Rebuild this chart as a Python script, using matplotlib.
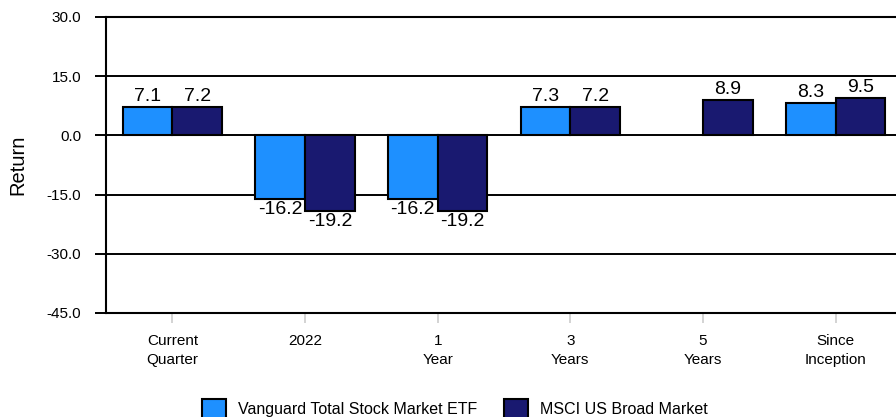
import numpy as np
import matplotlib
matplotlib.use("Agg")
import matplotlib.pyplot as plt

# === DATA ===
categories = ["Current\nQuarter", "2022", "1\nYear", "3\nYears", "5\nYears", "Since\nInception"]
vanguard = [7.1, -16.2, -16.2, 7.3, np.nan, 8.3]
msci = [7.2, -19.2, -19.2, 7.2, 8.9, 9.5]
series_names = ["Vanguard Total Stock Market ETF", "MSCI US Broad Market"]
yticks = [-45, -30, -15, 0, 15, 30]

# === STYLE ===
plt.rcParams['font.family'] = ['Liberation Sans', 'DejaVu Sans']
light = '#1E90FF'
dark = '#191970'
w = 0.375

fig = plt.figure(figsize=(8.96, 4.17), dpi=100)
ax = fig.add_axes([106/896, 104/417, 796/896, 296/417])

x = np.arange(len(categories))
b1 = ax.bar(x - w/2, vanguard, w, color=light, edgecolor='black', linewidth=1.5,
            label=series_names[0], zorder=3)
b2 = ax.bar(x + w/2, msci, w, color=dark, edgecolor='black', linewidth=1.5,
            label=series_names[1], zorder=3)

# value labels
for bars, vals in [(b1, vanguard), (b2, msci)]:
    for rect, v in zip(bars, vals):
        if np.isnan(v):
            continue
        cx = rect.get_x() + rect.get_width()/2
        if v >= 0:
            ax.annotate(f"{v:.1f}", (cx, v), xytext=(0, 1.5), textcoords='offset points',
                        ha='center', va='bottom', fontsize=14, zorder=4)
        else:
            ax.annotate(f"{v:.1f}", (cx, v), xytext=(0, -1.5), textcoords='offset points',
                        ha='center', va='top', fontsize=14, zorder=4)

ax.set_xlim(-0.5, len(categories) - 0.5)
ax.set_ylim(-45, 30)
ax.set_yticks(yticks)
ax.set_yticklabels([f"{t:.1f}" for t in yticks], fontsize=11)
ax.set_xticks(x)
ax.set_xticklabels(categories, fontsize=11, linespacing=1.45)
ax.tick_params(axis='y', length=8, width=1.4, color='black', pad=10)
ax.tick_params(axis='x', length=7, width=1.3, color='#d0d0d0', pad=8)
ax.yaxis.grid(True, color='black', linewidth=1.4, zorder=1)
ax.set_axisbelow(True)
for s in ax.spines.values():
    s.set_linewidth(1.5)
ax.spines['right'].set_visible(False)

ax.set_ylabel("Return", fontsize=14.5, labelpad=14)

fig.legend(handles=[b1, b2], loc='center', bbox_to_anchor=(455/896, 1 - 409/417), ncol=2,
           frameon=False, fontsize=11.5, handlelength=1.5, handleheight=1.5,
           columnspacing=1.7, handletextpad=0.75, borderpad=0.2)

fig.savefig("out.png", dpi=100)
